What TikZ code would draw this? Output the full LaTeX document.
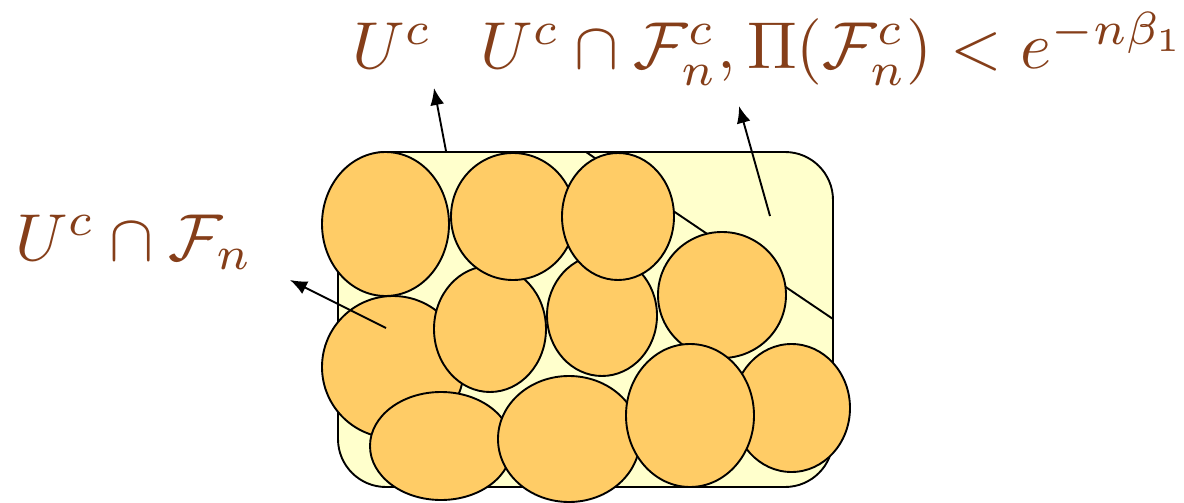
\documentclass[tikz,border=0pt]{standalone}
\usetikzlibrary{shapes.geometric,arrows.meta}
\definecolor{regionfill}{RGB}{255,255,204}
\definecolor{ballfill}{RGB}{255,204,102}
\definecolor{labelbrown}{RGB}{133,62,25}
\begin{document}
\begin{tikzpicture}[x=1pt,y=-1pt,
  ball/.style={ellipse,draw=black,line width=1.9pt,fill=ballfill,inner sep=0pt},
  region/.style={rectangle,draw=black,line width=1.9pt,fill=regionfill,rounded corners=48pt,inner sep=0pt},
  divider/.style={draw=black,line width=1.9pt},
  pointer/.style={draw=black,line width=1.9pt,-{Latex[length=17pt,width=14pt]}},
  lab/.style={text=labelbrown,inner sep=0pt,anchor=base west,scale=6.64,transform shape}]
\useasboundingbox (0,0) rectangle (1184,503);
% region
\node[region,minimum width=495pt,minimum height=335pt] (R) at (585.5,319.5) {};
\coordinate (d1) at (586,152);
\coordinate (d2) at (833,319);
\draw[divider] (d1) -- (d2);
% balls
\node[ball,minimum width=142pt,minimum height=142pt] (b4) at (393,367) {};
\node[ball,minimum width=127pt,minimum height=144pt] (b1) at (385.5,224) {};
\node[ball,minimum width=112pt,minimum height=126pt] (b5) at (490,329) {};
\node[ball,minimum width=124pt,minimum height=127pt] (b2) at (513,216.5) {};
\node[ball,minimum width=110pt,minimum height=121pt] (b6) at (602,315.5) {};
\node[ball,minimum width=112pt,minimum height=127pt] (b3) at (618,216.5) {};
\node[ball,minimum width=128pt,minimum height=126pt] (b7) at (722,295) {};
\node[ball,minimum width=117pt,minimum height=128pt] (b11) at (791.5,408) {};
\node[ball,minimum width=142pt,minimum height=108pt] (b8) at (441,446) {};
\node[ball,minimum width=142pt,minimum height=126pt] (b9) at (569,439) {};
\node[ball,minimum width=128pt,minimum height=143pt] (b10) at (690,415.5) {};
% labels
\node[lab] (L1) at (351,69) {$U^c$};
\node[lab] (L2) at (479,69) {$U^c\cap\mathcal{F}_n^c,\Pi(\mathcal{F}_n^c)<e^{-n\beta_1}$};
\node[lab] (L3) at (14,260) {$U^c\cap\mathcal{F}_n$};
% pointers
\coordinate (t1) at (446,151);
\coordinate (h1) at (434,88);
\coordinate (t2) at (770,216);
\coordinate (h2) at (739,106);
\coordinate (t3) at (386,328);
\coordinate (h3) at (290,280);
\draw[pointer] (t1) -- (h1);
\draw[pointer] (t2) -- (h2);
\draw[pointer] (t3) -- (h3);
\end{tikzpicture}
\end{document}
